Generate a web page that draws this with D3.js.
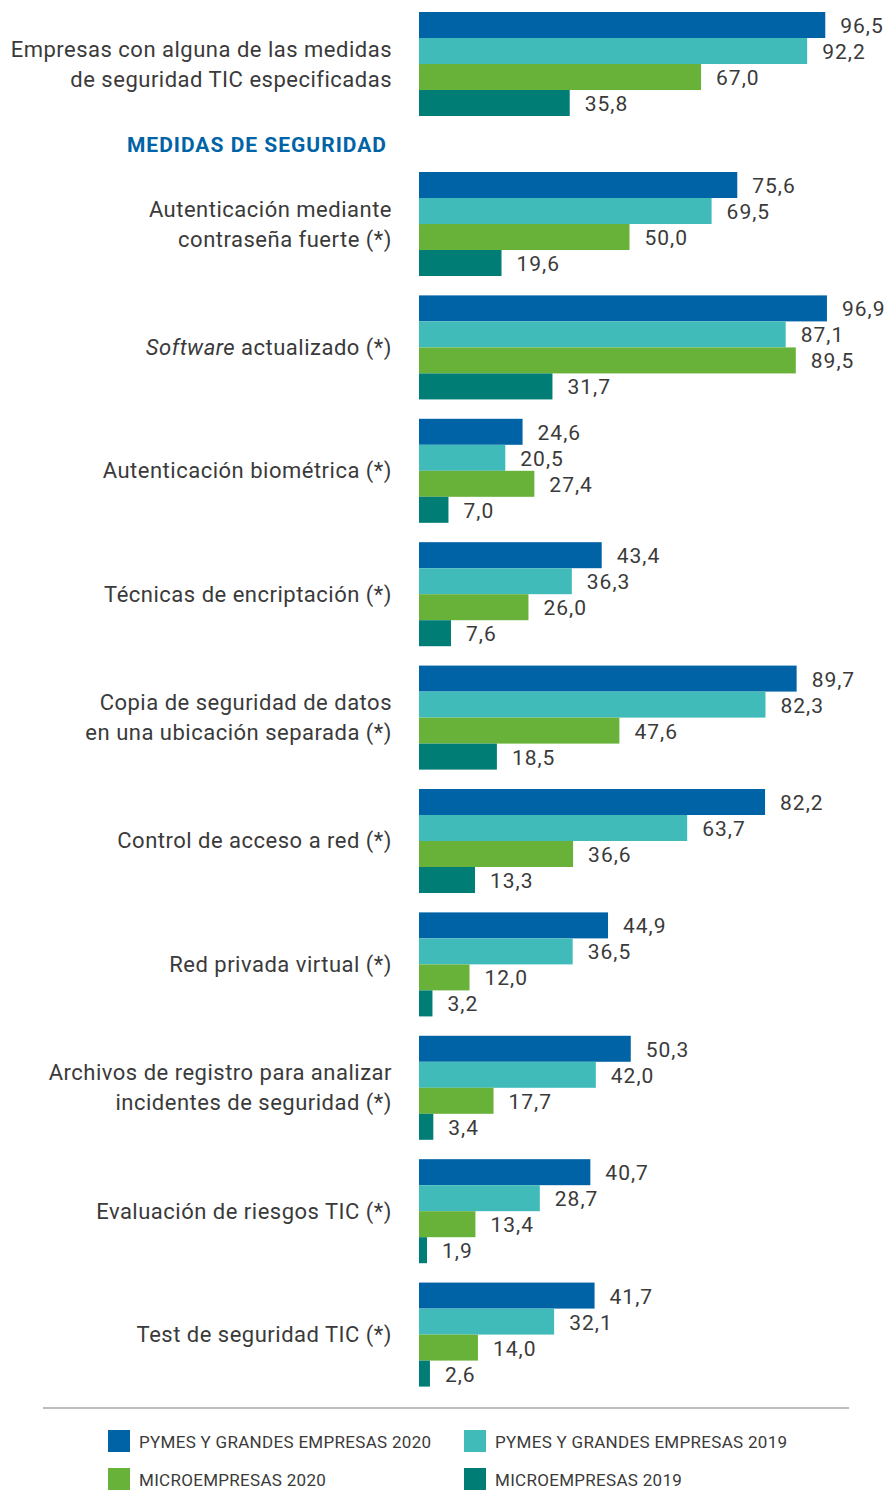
<!DOCTYPE html>
<html>
<head>
<meta charset="utf-8">
<script src="https://cdn.jsdelivr.net/npm/d3@7"></script>
<style>
  body { margin: 0; background: #fff; }
  svg { display: block; font-family: Roboto, "Noto Sans", sans-serif; }
</style>
</head>
<body>
<div id="chart"></div>
<script>
// categories (first one is the total row, the rest are the "medidas")
const categories = [
  ["Empresas con alguna de las medidas", "de seguridad TIC especificadas"],
  ["Autenticación mediante", "contraseña fuerte (*)"],
  ["*Software* actualizado (*)"],
  ["Autenticación biométrica (*)"],
  ["Técnicas de encriptación (*)"],
  ["Copia de seguridad de datos", "en una ubicación separada (*)"],
  ["Control de acceso a red (*)"],
  ["Red privada virtual (*)"],
  ["Archivos de registro para analizar", "incidentes de seguridad (*)"],
  ["Evaluación de riesgos TIC (*)"],
  ["Test de seguridad TIC (*)"]
]
const seriesNames = [
  "PYMES Y GRANDES EMPRESAS 2020",
  "PYMES Y GRANDES EMPRESAS 2019",
  "MICROEMPRESAS 2020",
  "MICROEMPRESAS 2019"
]
const pymes2020 = [96.5, 75.6, 96.9, 24.6, 43.4, 89.7, 82.2, 44.9, 50.3, 40.7, 41.7]
const pymes2019 = [92.2, 69.5, 87.1, 20.5, 36.3, 82.3, 63.7, 36.5, 42.0, 28.7, 32.1]
const micro2020 = [67.0, 50.0, 89.5, 27.4, 26.0, 47.6, 36.6, 12.0, 17.7, 13.4, 14.0]
const micro2019 = [35.8, 19.6, 31.7, 7.0, 7.6, 18.5, 13.3, 3.2, 3.4, 1.9, 2.6]
const sectionTitle = "MEDIDAS DE SEGURIDAD"

const colors = ["#0063a6", "#41bbb9", "#69b23a", "#007d74"]
const seriesValues = [pymes2020, pymes2019, micro2020, micro2019]

const width = 887, height = 1490
const fmt = v => d3.format(".1f")(v).replace(".", ",")

const svg = d3.select("#chart")
  .append("svg")
  .attr("width", width)
  .attr("height", height)

const x = d3.scaleLinear().domain([0, 100]).range([419, 840])

// rows: index 0 is the total, 1..10 the medidas
const rowIdx = d3.range(categories.length)
const yMed = d3.scaleBand()
  .domain(rowIdx.slice(1))
  .range([172, 1386.6])
  .paddingInner(0.157)
  .paddingOuter(0)
const groupH = yMed.bandwidth()
const yRow = i => i === 0 ? 12 : yMed(i)

const ySeries = d3.scaleBand()
  .domain(d3.range(seriesNames.length))
  .range([0, groupH])

const rows = rowIdx.map(i => ({
  i,
  label: categories[i],
  values: seriesValues.map(s => s[i])
}))

const g = svg.selectAll("g.row")
  .data(rows)
  .enter()
  .append("g")
  .attr("class", "row")
  .attr("transform", d => `translate(0,${yRow(d.i)})`)

g.selectAll("rect")
  .data(d => d.values)
  .enter()
  .append("rect")
  .attr("x", x(0))
  .attr("y", (d, j) => ySeries(j))
  .attr("width", d => x(d) - x(0))
  .attr("height", ySeries.bandwidth())
  .attr("fill", (d, j) => colors[j])

g.selectAll("text.val")
  .data(d => d.values)
  .enter()
  .append("text")
  .attr("class", "val")
  .attr("x", d => x(d) + 15)
  .attr("y", (d, j) => ySeries(j) + ySeries.bandwidth() / 2 + 1)
  .attr("dominant-baseline", "central")
  .attr("font-size", 21)
  .attr("letter-spacing", 1)
  .attr("fill", "#3a3a3a")
  .text(fmt)

// category labels, right aligned
const lab = g.append("text")
  .attr("text-anchor", "end")
  .attr("font-size", 22)
  .attr("letter-spacing", 0.5)
  .attr("fill", "#3a3a3a")

lab.each(function (d) {
  const t = d3.select(this)
  const n = d.label.length
  d.label.forEach((line, k) => {
    const ty = groupH / 2 + (k - (n - 1) / 2) * 30
    const ts = t.append("tspan").attr("x", 392).attr("y", ty).attr("dominant-baseline", "central")
    const m = line.match(/^\*(.+?)\*(.*)$/)
    if (m) {
      ts.append("tspan").attr("font-style", "italic").text(m[1])
      ts.append("tspan").text(m[2])
    } else {
      ts.text(line)
    }
  })
})

svg.append("text")
  .attr("x", 387)
  .attr("y", 145)
  .attr("text-anchor", "end")
  .attr("dominant-baseline", "central")
  .attr("font-size", 21)
  .attr("letter-spacing", 1)
  .attr("font-weight", "bold")
  .attr("fill", "#0063a6")
  .text(sectionTitle)

// legend
svg.append("line")
  .attr("x1", 43).attr("x2", 849)
  .attr("y1", 1408).attr("y2", 1408)
  .attr("stroke", "#bdbdbd")
  .attr("stroke-width", 2)

const legend = svg.selectAll("g.legend")
  .data(seriesNames)
  .enter()
  .append("g")
  .attr("class", "legend")
  .attr("transform", (d, j) => `translate(${j % 2 === 0 ? 108 : 464},${j < 2 ? 1430 : 1468})`)

legend.append("rect")
  .attr("width", 22)
  .attr("height", 22)
  .attr("fill", (d, j) => colors[j])

legend.append("text")
  .attr("x", 31)
  .attr("y", 12)
  .attr("dominant-baseline", "central")
  .attr("font-size", 17)
  .attr("letter-spacing", 0.3)
  .attr("fill", "#3a3a3a")
  .text(d => d)
</script>
</body>
</html>
